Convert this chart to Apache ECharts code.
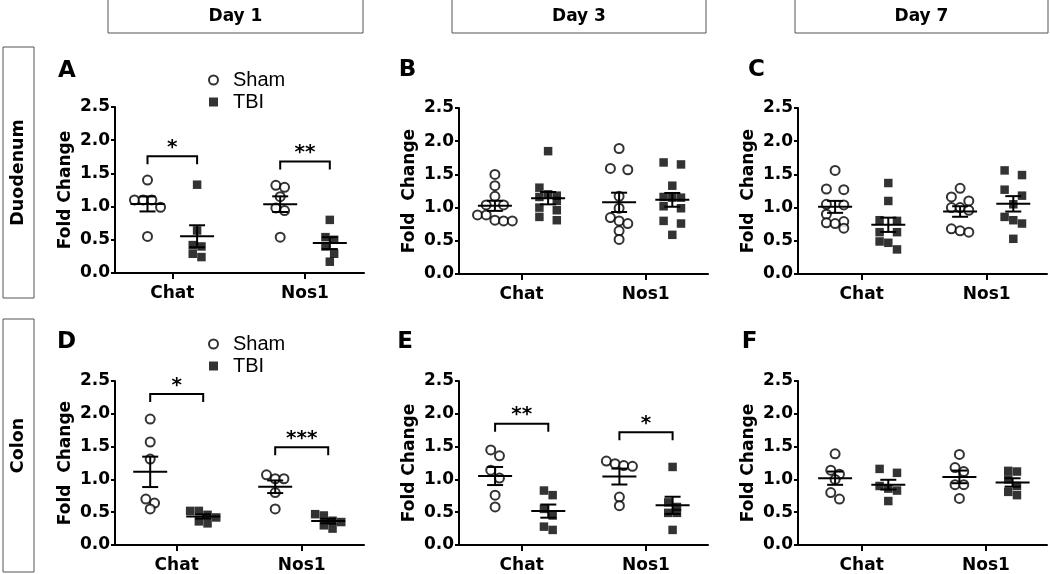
<!DOCTYPE html>
<html><head><meta charset="utf-8">
<script src="https://cdn.jsdelivr.net/npm/echarts@6/dist/echarts.min.js"></script>
<style>html,body{margin:0;padding:0;background:#fff}#c{width:1050px;height:574px}</style>
</head><body><div id="c"></div><script>
// ---------- data ----------
const categories = ['Chat', 'Nos1'];
const groups = ['Sham', 'TBI'];
const dayLabels = ['Day 1', 'Day 3', 'Day 7'];
const tissueLabels = ['Duodenum', 'Colon'];
const panelLetters = ['A', 'B', 'C', 'D', 'E', 'F'];
const yTickValues = [0, 0.5, 1.0, 1.5, 2.0, 2.5];

// Duodenum, Day 1
const A_chat_sham = [1.40, 1.10, 1.10, 1.10, 0.99, 0.55];
const A_chat_tbi  = [1.33, 0.64, 0.42, 0.40, 0.29, 0.24];
const A_nos1_sham = [1.32, 1.29, 1.15, 0.98, 0.94, 0.54];
const A_nos1_tbi  = [0.80, 0.54, 0.50, 0.40, 0.29, 0.17];
// Duodenum, Day 3
const B_chat_sham = [1.50, 1.33, 1.17, 1.04, 1.04, 0.89, 0.89, 0.81, 0.80, 0.80];
const B_chat_tbi  = [1.85, 1.30, 1.20, 1.18, 1.16, 1.10, 1.00, 0.96, 0.86, 0.81];
const B_nos1_sham = [1.89, 1.59, 1.57, 1.17, 0.99, 0.85, 0.80, 0.76, 0.65, 0.52];
const B_nos1_tbi  = [1.68, 1.65, 1.33, 1.16, 1.15, 1.15, 1.02, 0.99, 0.80, 0.76, 0.59];
// Duodenum, Day 7
const C_chat_sham = [1.56, 1.28, 1.27, 1.05, 1.04, 0.90, 0.79, 0.77, 0.76, 0.69];
const C_chat_tbi  = [1.37, 1.10, 0.81, 0.80, 0.63, 0.63, 0.49, 0.47, 0.37];
const C_nos1_sham = [1.29, 1.16, 1.10, 1.00, 1.00, 0.96, 0.68, 0.65, 0.63];
const C_nos1_tbi  = [1.56, 1.49, 1.27, 1.18, 1.05, 0.86, 0.81, 0.76, 0.53];
// Colon, Day 1
const D_chat_sham = [1.92, 1.57, 1.31, 0.70, 0.64, 0.55];
const D_chat_tbi  = [0.52, 0.52, 0.46, 0.42, 0.36, 0.33];
const D_nos1_sham = [1.07, 1.01, 1.01, 0.80, 0.55];
const D_nos1_tbi  = [0.47, 0.45, 0.37, 0.35, 0.30, 0.25];
// Colon, Day 3
const E_chat_sham = [1.45, 1.36, 1.14, 1.02, 0.76, 0.58];
const E_chat_tbi  = [0.83, 0.76, 0.55, 0.45, 0.28, 0.23];
const E_nos1_sham = [1.28, 1.24, 1.21, 1.20, 0.73, 0.60];
const E_nos1_tbi  = [1.19, 0.65, 0.58, 0.49, 0.49, 0.23];
// Colon, Day 7
const F_chat_sham = [1.39, 1.14, 1.08, 1.00, 0.80, 0.70];
const F_chat_tbi  = [1.16, 1.10, 0.90, 0.86, 0.83, 0.67];
const F_nos1_sham = [1.38, 1.18, 1.12, 0.92, 0.92, 0.71];
const F_nos1_tbi  = [1.13, 1.12, 1.00, 0.90, 0.81, 0.76];

// significance: [label, bracket height] per category (null = none)
const sigA = [['*', 1.76], ['**', 1.68]];
const sigD = [['*', 2.30], ['***', 1.49]];
const sigE = [['**', 1.85], ['*', 1.72]];

// ---------- layout ----------
const BOLD = '"DejaVu Sans", sans-serif';
const panels = [
  {vals: [A_chat_sham, A_chat_tbi, A_nos1_sham, A_nos1_tbi], sig: sigA, yName: 'Fold Change',
   grid: {left: 115, top: 107, width: 249, height: 166}, pos: [57.3, 190], half: 24.8, letter: [67, 71]},
  {vals: [B_chat_sham, B_chat_tbi, B_nos1_sham, B_nos1_tbi], sig: null, yName: 'Fold  Change',
   grid: {left: 459, top: 108, width: 249, height: 166}, pos: [62.5, 186.7], half: 26.6, letter: [407.5, 70]},
  {vals: [C_chat_sham, C_chat_tbi, C_nos1_sham, C_nos1_tbi], sig: null, yName: 'Fold  Change',
   grid: {left: 798, top: 108, width: 249, height: 166}, pos: [63.7, 188.7], half: 26.6, letter: [756.5, 70]},
  {vals: [D_chat_sham, D_chat_tbi, D_nos1_sham, D_nos1_tbi], sig: sigD, yName: 'Fold  Change',
   grid: {left: 115, top: 381, width: 249, height: 165}, pos: [61.7, 186.7], half: 26.5, letter: [66.5, 342]},
  {vals: [E_chat_sham, E_chat_tbi, E_nos1_sham, E_nos1_tbi], sig: sigE, yName: 'Fold Change',
   grid: {left: 459, top: 381, width: 249, height: 166}, pos: [62.7, 187], half: 26.6, letter: [405, 342]},
  {vals: [F_chat_sham, F_chat_tbi, F_nos1_sham, F_nos1_tbi], sig: null, yName: 'Fold Change',
   grid: {left: 798, top: 381, width: 249, height: 166}, pos: [63.7, 188], half: 26.6, letter: [749.5, 342]}
];

const SLOT = 8.7, ROW_THR = 8;
function swarm(values, center, pxPerUnit) {
  const sorted = values.slice().sort((a, b) => b - a);
  const rows = [];
  sorted.forEach(v => {
    const r = rows[rows.length - 1];
    if (r && (r[0] - v) * pxPerUnit <= ROW_THR) r.push(v); else rows.push([v]);
  });
  const maxN = Math.max(...rows.map(r => r.length));
  const halfLattice = maxN % 2 === 0;
  const pts = [];
  rows.forEach(r => {
    const n = r.length;
    r.forEach((v, i) => {
      let k;
      if (halfLattice || n % 2 === 1) k = i - (n - 1) / 2;
      else { k = i - n / 2; if (k >= 0) k += 1; }
      pts.push([center + k * SLOT, v]);
    });
  });
  return pts;
}
function meanSem(a) {
  const m = a.reduce((s, v) => s + v, 0) / a.length;
  const sd = Math.sqrt(a.reduce((s, v) => s + (v - m) * (v - m), 0) / (a.length - 1));
  return [m, sd / Math.sqrt(a.length)];
}

const grids = [], xAxes = [], yAxes = [], series = [];
panels.forEach((p, i) => {
  grids.push(Object.assign({containLabel: false}, p.grid));
  const pxPerUnit = p.grid.height / 2.5;
  xAxes.push({
    type: 'value', gridIndex: i, min: 0, max: p.grid.width,
    splitLine: {show: false},
    axisLine: {show: true, lineStyle: {color: '#000', width: 2}},
    axisTick: {show: true, customValues: p.pos, length: 6, lineStyle: {color: '#000', width: 2}},
    axisLabel: {show: true, customValues: p.pos, margin: 12,
      formatter: v => { let b = 0; p.pos.forEach((q, j) => { if (Math.abs(q - v) < Math.abs(p.pos[b] - v)) b = j; }); return categories[b]; },
      color: '#000', fontFamily: BOLD, fontWeight: 'bold', fontSize: 17}
  });
  yAxes.push({
    type: 'value', gridIndex: i, min: 0, max: 2.5, interval: 0.5,
    name: p.yName, nameLocation: 'middle', nameRotate: 90, nameGap: 41,
    nameTextStyle: {color: '#000', fontFamily: BOLD, fontWeight: 'bold', fontSize: 17},
    splitLine: {show: false},
    axisLine: {show: true, lineStyle: {color: '#000', width: 2}},
    axisTick: {show: true, length: 4, lineStyle: {color: '#000', width: 2}},
    axisLabel: {margin: 5, color: '#000', fontFamily: BOLD, fontWeight: 'bold', fontSize: 17,
      formatter: v => yTickValues.indexOf(v) >= 0 ? v.toFixed(1) : ''}
  });
  const shamPts = [], tbiPts = [], stats = [];
  categories.forEach((c, ci) => {
    const sham = p.vals[ci * 2], tbi = p.vals[ci * 2 + 1];
    const xs = p.pos[ci] - p.half, xt = p.pos[ci] + p.half;
    shamPts.push(...swarm(sham, xs, pxPerUnit));
    tbiPts.push(...swarm(tbi, xt, pxPerUnit));
    stats.push([xs, ...meanSem(sham)], [xt, ...meanSem(tbi)]);
  });
  series.push({
    name: groups[0], type: 'scatter', xAxisIndex: i, yAxisIndex: i, data: shamPts,
    symbol: 'emptyCircle', symbolSize: 9,
    itemStyle: {color: '#000', borderColor: '#000', borderWidth: 1.6}, z: 2, silent: true
  });
  series.push({
    name: groups[1], type: 'scatter', xAxisIndex: i, yAxisIndex: i, data: tbiPts,
    symbol: 'rect', symbolSize: 8.5, itemStyle: {color: '#000'}, z: 2, silent: true
  });
  series.push({
    name: 'mean', type: 'custom', xAxisIndex: i, yAxisIndex: i, data: stats, z: 3, silent: true,
    encode: {x: 0, y: 1},
    renderItem: (params, api) => {
      const x = api.value(0), m = api.value(1), se = api.value(2);
      const c = api.coord([x, m]), t = api.coord([x, m + se]), b = api.coord([x, m - se]);
      const st = {stroke: '#000', lineWidth: 2};
      return {type: 'group', children: [
        {type: 'line', shape: {x1: c[0] - 17, y1: c[1], x2: c[0] + 17, y2: c[1]}, style: st},
        {type: 'line', shape: {x1: c[0], y1: t[1], x2: c[0], y2: b[1]}, style: st},
        {type: 'line', shape: {x1: c[0] - 8, y1: t[1], x2: c[0] + 8, y2: t[1]}, style: st},
        {type: 'line', shape: {x1: c[0] - 8, y1: b[1], x2: c[0] + 8, y2: b[1]}, style: st}
      ]};
    }
  });
  if (p.sig) {
    const sigData = p.sig.map((s, ci) => [p.pos[ci] - p.half, p.pos[ci] + p.half, s[1], s[0]]);
    series.push({
      name: 'sig', type: 'custom', xAxisIndex: i, yAxisIndex: i, data: sigData, z: 3, silent: true,
      encode: {x: 0, y: 2},
      renderItem: (params, api) => {
        const a = api.coord([api.value(0), api.value(2)]);
        const b = api.coord([api.value(1), api.value(2)]);
        const label = sigData[params.dataIndex][3];
        return {type: 'group', children: [
          {type: 'polyline', shape: {points: [[a[0], a[1] + 8], [a[0], a[1]], [b[0], b[1]], [b[0], b[1] + 8]]},
           style: {stroke: '#000', lineWidth: 2, fill: null}},
          {type: 'text', x: (a[0] + b[0]) / 2, y: a[1] - 8.5,
           style: {text: label, fill: '#000', font: 'bold 20px "DejaVu Sans"',
                   align: 'center', verticalAlign: 'middle', textAlign: 'center', textVerticalAlign: 'middle'}}
        ]};
      }
    });
  }
});

// ---------- headers, letters ----------
const graphics = [];
const dayBoxes = [[108, 255], [452, 254], [795, 253]];
dayLabels.forEach((d, i) => {
  const [x, w] = dayBoxes[i];
  graphics.push({type: 'rect', shape: {x: x, y: -1, width: w, height: 34},
    style: {fill: '#fff', stroke: '#555', lineWidth: 1}});
  graphics.push({type: 'text', x: x + w / 2, y: 17,
    style: {text: d, fill: '#000', font: 'bold 17px "DejaVu Sans"', align: 'center', verticalAlign: 'middle',
            textAlign: 'center', textVerticalAlign: 'middle'}});
});
const tissueBoxes = [[47, 251], [319, 253]];
tissueLabels.forEach((t, i) => {
  const [y, h] = tissueBoxes[i];
  graphics.push({type: 'rect', shape: {x: 3, y: y, width: 31, height: h},
    style: {fill: '#fff', stroke: '#555', lineWidth: 1}});
  graphics.push({type: 'text', x: 18.5, y: y + h / 2, rotation: Math.PI / 2,
    style: {text: t, fill: '#000', font: 'bold 17.5px "DejaVu Sans"', align: 'center', verticalAlign: 'middle',
            textAlign: 'center', textVerticalAlign: 'middle'}});
});
panels.forEach((p, i) => {
  graphics.push({type: 'text', x: p.letter[0], y: p.letter[1],
    style: {text: panelLetters[i], fill: '#000', font: 'bold 23px "DejaVu Sans"', align: 'center', verticalAlign: 'middle',
            textAlign: 'center', textVerticalAlign: 'middle'}});
});

const legendBase = {
  data: [{name: groups[0], icon: 'emptyCircle'}, {name: groups[1], icon: 'rect'}],
  orient: 'vertical', left: 208, itemWidth: 9, itemHeight: 9, itemGap: 2,
  selectedMode: false, padding: 0,
  textStyle: {color: '#000', fontSize: 20, fontFamily: '"Liberation Sans", Arial, sans-serif', lineHeight: 20,
              padding: [0, 0, 0, 10]}
};

const chart = echarts.init(document.getElementById('c'), null, {renderer: 'canvas'});
chart.setOption({
  backgroundColor: '#fff',
  animation: false,
  grid: grids, xAxis: xAxes, yAxis: yAxes, series: series,
  legend: [Object.assign({top: 70}, legendBase), Object.assign({top: 334}, legendBase)],
  graphic: {elements: graphics}
});
</script></body></html>
